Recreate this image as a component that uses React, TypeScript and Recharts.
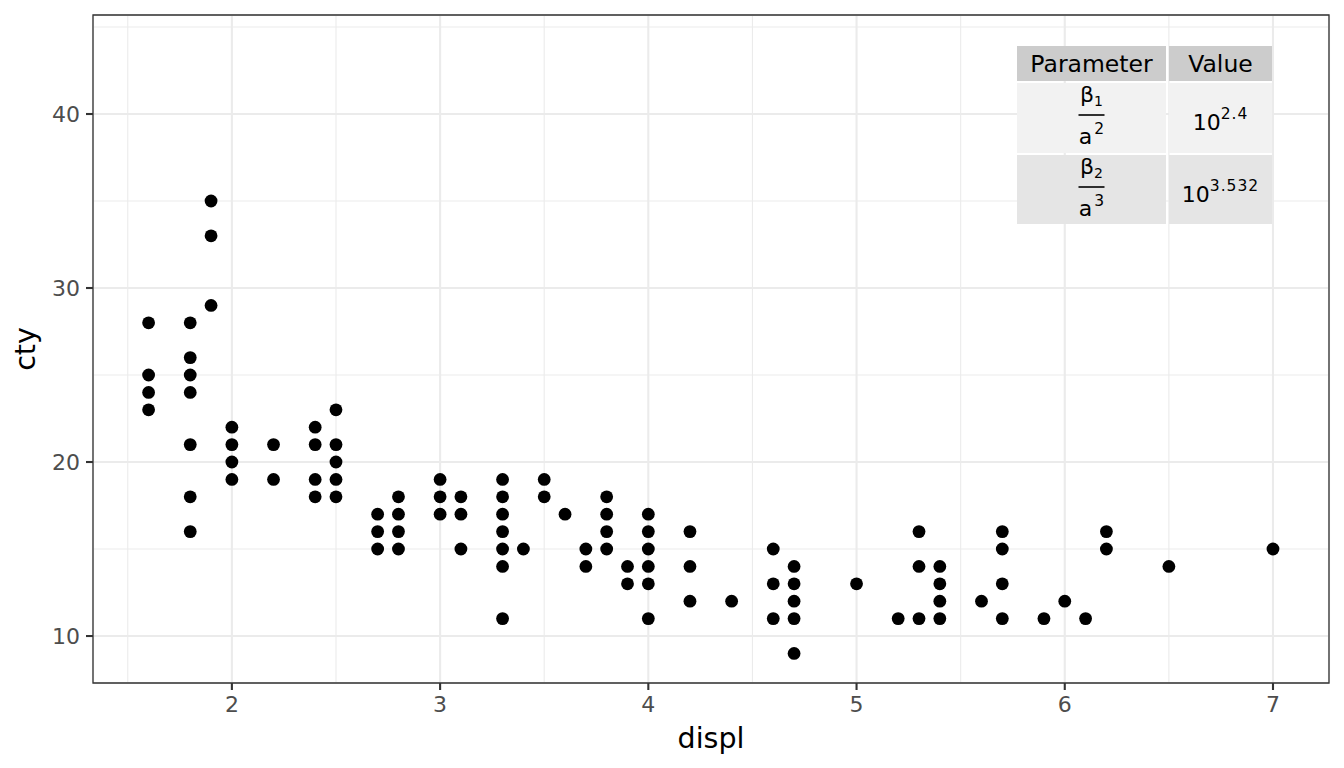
import React from 'react';
import { ScatterChart, Scatter, XAxis, YAxis, CartesianGrid, ReferenceArea, Label } from 'recharts';

// displ column groups and the distinct cty values seen in each
const displValues = [1.6, 1.8, 1.9, 2.0, 2.2, 2.4, 2.5, 2.7, 2.8, 3.0, 3.1, 3.3, 3.4, 3.5, 3.6, 3.7, 3.8, 3.9, 4.0, 4.2, 4.4, 4.6, 4.7, 5.0, 5.2, 5.3, 5.4, 5.6, 5.7, 5.9, 6.0, 6.1, 6.2, 6.5, 7.0];
const ctyValues = [
  [28, 25, 24, 23],
  [28, 26, 25, 24, 21, 18, 16],
  [35, 33, 29],
  [22, 21, 20, 19],
  [21, 19],
  [22, 21, 19, 18],
  [23, 21, 20, 19, 18],
  [17, 16, 15],
  [18, 17, 16, 15],
  [19, 18, 17],
  [18, 17, 15],
  [19, 18, 17, 16, 15, 14, 11],
  [15],
  [19, 18],
  [17],
  [15, 14],
  [18, 17, 16, 15],
  [14, 13],
  [17, 16, 15, 14, 13, 11],
  [16, 14, 12],
  [12],
  [15, 13, 11],
  [14, 13, 12, 11, 9],
  [13],
  [11],
  [16, 14, 11],
  [14, 13, 12, 11],
  [12],
  [16, 15, 13, 11],
  [11],
  [12],
  [11],
  [16, 15],
  [14],
  [15],
];

const xMajor = [2, 3, 4, 5, 6, 7];
const xMinor = [1.5, 2.5, 3.5, 4.5, 5.5, 6.5];
const yMajor = [10, 20, 30, 40];
const yMinor = [15, 25, 35, 45];
const xDomain: [number, number] = [1.333, 7.269];
const yDomain: [number, number] = [7.3, 45.69];

const tableHeader = ['Parameter', 'Value'];
const tableNumSym = ['β', 'β'];
const tableNumSub = ['1', '2'];
const tableDenSym = ['a', 'a'];
const tableDenPow = ['2', '3'];
const tableBase = ['10', '10'];
const tableExp = ['2.4', '3.532'];

const points = displValues.flatMap((x, i) => ctyValues[i].map((y) => ({ x, y })));

const FONT = '"DejaVu Sans", Verdana, sans-serif';

const Dot = (props: any) => <circle cx={props.cx} cy={props.cy} r={6.4} fill="#000" />;

const rowBgs = ['#f2f2f2', '#e5e5e5'];
const rowTops = [83, 155];
const rowH = [70, 69];
const col1 = { x: 1017, w: 149 };
const col2 = { x: 1169, w: 103 };

function ParamTable() {
  const c1 = col1.x + col1.w / 2;
  const c2 = col2.x + col2.w / 2;
  return (
    <svg width={1344} height={768} style={{ position: 'absolute', left: 0, top: 0, pointerEvents: 'none' }} fontFamily={FONT}>
      <rect x={col1.x} y={46} width={col1.w} height={35} fill="#cccccc" />
      <rect x={col2.x} y={46} width={col2.w} height={35} fill="#cccccc" />
      <text x={c1} y={72} textAnchor="middle" fontSize={23.5} fill="#000">{tableHeader[0]}</text>
      <text x={c2} y={72} textAnchor="middle" fontSize={23.5} fill="#000">{tableHeader[1]}</text>
      {tableNumSym.map((_, i) => {
        const t = rowTops[i];
        return (
          <g key={i}>
            <rect x={col1.x} y={t} width={col1.w} height={rowH[i]} fill={rowBgs[i]} />
            <rect x={col2.x} y={t} width={col2.w} height={rowH[i]} fill={rowBgs[i]} />
            <text x={c1} y={t + 19} textAnchor="middle" fontSize={22} fill="#000">
              {tableNumSym[i]}
              <tspan fontSize={14} dx={0} dy={4}>{tableNumSub[i]}</tspan>
            </text>
            <line x1={c1 - 13} x2={c1 + 13} y1={t + 32} y2={t + 32} stroke="#000" strokeWidth={1.6} />
            <text x={c1} y={t + 61} textAnchor="middle" fontSize={22} fill="#000">
              {tableDenSym[i]}
              <tspan fontSize={15.5} dy={-10} dx={2}>{tableDenPow[i]}</tspan>
            </text>
            <text x={c2} y={t + 47} textAnchor="middle" fontSize={22} fill="#000">
              {tableBase[i]}
              <tspan fontSize={15.5} dy={-11} letterSpacing={1}>{tableExp[i]}</tspan>
            </text>
          </g>
        );
      })}
    </svg>
  );
}

export default function App() {
  return (
    <div style={{ position: 'absolute', left: 0, top: 0, width: 1344, height: 768, background: '#fff' }}>
      <ScatterChart width={1344} height={768} margin={{ top: 15, right: 15, bottom: 0, left: 0 }} style={{ fontFamily: FONT }}>
        <XAxis xAxisId="minor" type="number" dataKey="x" domain={xDomain} ticks={xMinor} hide allowDataOverflow />
        <YAxis yAxisId="minor" type="number" dataKey="y" domain={yDomain} ticks={yMinor} hide allowDataOverflow />
        <CartesianGrid xAxisId="minor" yAxisId="minor" stroke="#ebebeb" strokeWidth={1.1} />
        <CartesianGrid stroke="#ebebeb" strokeWidth={2.1} />
        <XAxis
          type="number"
          dataKey="x"
          domain={xDomain}
          ticks={xMajor}
          allowDataOverflow
          height={85}
          tickSize={7}
          tickMargin={6}
          axisLine={false}
          tickLine={{ stroke: '#333', strokeWidth: 2.1 }}
          tick={{ fill: '#4d4d4d', fontSize: 22, fontFamily: FONT }}
        >
          <Label
            content={(p: any) => (
              <text x={p.viewBox.x + p.viewBox.width / 2} y={748} textAnchor="middle" fontSize={28.5} fill="#000" fontFamily={FONT}>
                displ
              </text>
            )}
          />
        </XAxis>
        <YAxis
          type="number"
          dataKey="y"
          domain={yDomain}
          ticks={yMajor}
          allowDataOverflow
          width={93}
          tickSize={7}
          tickMargin={6}
          axisLine={false}
          tickLine={{ stroke: '#333', strokeWidth: 2.1 }}
          tick={{ fill: '#4d4d4d', fontSize: 22, fontFamily: FONT }}
        >
          <Label
            content={(p: any) => {
              const cy = p.viewBox.y + p.viewBox.height / 2;
              return (
                <text x={35} y={cy} transform={`rotate(-90 35 ${cy})`} textAnchor="middle" fontSize={28.5} fill="#000" fontFamily={FONT}>
                  cty
                </text>
              );
            }}
          />
        </YAxis>
        <Scatter data={points} shape={Dot} isAnimationActive={false} />
        <ReferenceArea x1={xDomain[0]} x2={xDomain[1]} y1={yDomain[0]} y2={yDomain[1]} fill="none" fillOpacity={0} stroke="#333" strokeWidth={1.3} ifOverflow="visible" />
      </ScatterChart>
      <ParamTable />
    </div>
  );
}
